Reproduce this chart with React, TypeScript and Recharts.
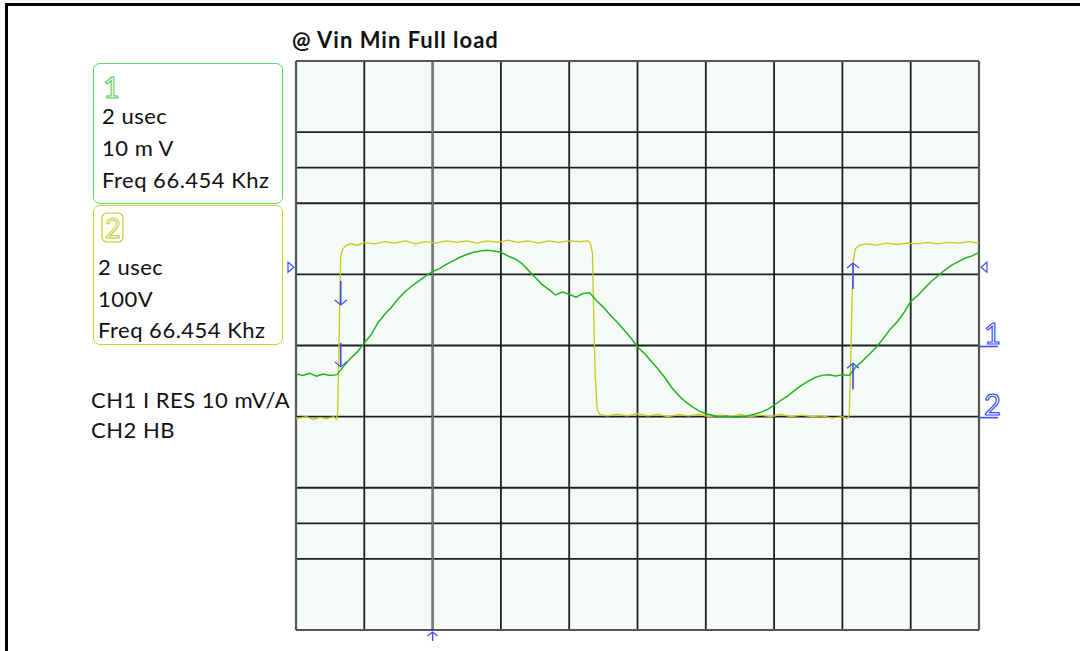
import React from "react";
import {
  LineChart,
  Line,
  XAxis,
  YAxis,
  CartesianGrid,
  ReferenceLine,
  ReferenceDot,
} from "recharts";

// ---- data (read from the scope capture) ----
// time axis: 2 usec / div, 10 divisions
const timeTicks = [0, 2, 4, 6, 8, 10, 12, 14, 16, 18, 20];
// CH1 (10 mV/div), 8 divisions plus two half lines
const ch1Ticks = [-40, -30, -25, -20, -10, 0, 10, 20, 25, 30, 40];

// CH1 current-sense trace (usec, mV)
const ch1Time = [
  0, 0.2, 0.4, 0.6, 0.8, 1.0, 1.2, 1.4, 1.6, 1.8, 2.0, 2.2, 2.4, 2.6, 2.8, 3.0, 3.2,
  3.4, 3.6, 3.8, 4.0, 4.2, 4.4, 4.6, 4.8, 5.0, 5.2, 5.4, 5.6, 5.8, 6.0, 6.2, 6.4,
  6.6, 6.8, 7.0, 7.2, 7.4, 7.6, 7.8, 8.0, 8.2, 8.4, 8.6, 8.8, 9.0, 9.2, 9.4, 9.6,
  9.8, 10.0, 10.2, 10.4, 10.6, 10.8, 11.0, 11.2, 11.4, 11.6, 11.8, 12.0, 12.2,
  12.4, 12.6, 12.8, 13.0, 13.2, 13.4, 13.6, 13.8, 14.0, 14.2, 14.4, 14.6, 14.8,
  15.0, 15.2, 15.4, 15.6, 15.8, 16.0, 16.2, 16.4, 16.6, 16.8, 17.0, 17.2, 17.4,
  17.6, 17.8, 18.0, 18.2, 18.4, 18.6, 18.8, 19.0, 19.2, 19.4, 19.6, 19.8, 20.0,
];
const ch1mV = [
  -4.0, -4.2, -3.9, -4.3, -4.0, -4.2, -4.1, -2.9, -1.8, -0.9, 0.4, 1.5, 3.2, 4.4,
  5.4, 6.6, 7.6, 8.4, 9.1, 9.8, 10.4, 10.8, 11.4, 11.9, 12.4, 12.8, 13.1, 13.3,
  13.4, 13.3, 13.1, 12.6, 12.2, 11.6, 10.6, 9.6, 8.6, 7.9, 7.1, 7.5, 7.2, 6.8, 7.3,
  7.4, 6.3, 5.4, 4.3, 3.3, 2.2, 1.1, -0.2, -1.1, -2.2, -3.3, -4.5, -5.9, -7.0,
  -7.9, -8.6, -9.2, -9.6, -9.8, -10.0, -9.9, -10.1, -10.0, -9.9, -9.7, -9.4, -9.0,
  -8.4, -7.7, -7.1, -6.3, -5.6, -5.0, -4.5, -4.2, -4.1, -4.3, -4.1, -4.2, -3.0,
  -2.1, -1.2, -0.2, 1.0, 2.3, 3.3, 4.6, 6.2, 7.0, 8.0, 9.0, 9.8, 10.6, 11.3, 11.8,
  12.3, 12.6, 13.1,
];

// CH2 half-bridge node (usec, V) at 100 V/div
const ch2Time = [
  0, 0.3, 0.5, 0.7, 0.9, 1.1, 1.18, 1.22, 1.25, 1.28, 1.31, 1.36, 1.45, 1.6, 1.8,
  2.0, 2.3, 2.6, 2.9, 3.2, 3.5, 3.8, 4.1, 4.4, 4.7, 5.0, 5.3, 5.6, 5.9, 6.2, 6.5,
  6.8, 7.1, 7.4, 7.7, 8.0, 8.3, 8.55, 8.62, 8.68, 8.72, 8.76, 8.82, 8.9, 9.1, 9.4,
  9.7, 10.0, 10.3, 10.6, 10.9, 11.2, 11.5, 11.8, 12.1, 12.4, 12.7, 13.0, 13.3,
  13.6, 13.9, 14.2, 14.5, 14.8, 15.1, 15.4, 15.7, 16.0, 16.14, 16.2, 16.24, 16.28,
  16.32, 16.38, 16.5, 16.7, 17.0, 17.3, 17.6, 17.9, 18.2, 18.5, 18.8, 19.1, 19.4,
  19.7, 20.0,
];
const ch2Volts = [
  -103, -100, -104, -101, -103, -100, -104, -95, -20, 60, 125, 135, 140, 143, 141,
  145, 143, 146, 144, 147, 143, 146, 144, 147, 145, 147, 144, 147, 145, 148, 145,
  147, 144, 147, 145, 147, 146, 147, 144, 130, 40, -40, -90, -97, -99, -97, -99,
  -96, -99, -97, -100, -97, -99, -97, -100, -98, -100, -97, -100, -98, -100, -97,
  -100, -98, -100, -99, -102, -100, -103, -98, -30, 60, 120, 136, 141, 143, 141,
  144, 142, 144, 143, 145, 143, 145, 144, 146, 144,
];

// cursor / marker positions (usec, mV)
const cursorLeftT = 1.31;
const cursorRightT = 16.31;
const cursorDownHeads = [5.7, -3.0];
const cursorUpHeads = [11.6, -2.5];
const triggerLevelmV = 11.0;
const triggerT = 4;

const ch1Data = ch1Time.map((t, i) => ({ t, v: ch1mV[i] }));
const ch2Data = ch2Time.map((t, i) => ({ t, v: ch2Volts[i] }));

const BLUE = "#3a4cf5";
const GREEN = "#1fb41f";
const YELLOW = "#c8c81e";
const FONT = "Lato, 'Noto Sans', sans-serif";

const DownArrow = (p: any) => (
  <g>
    <line x1={p.cx} y1={p.cy - 24} x2={p.cx} y2={p.cy} stroke={BLUE} strokeWidth={1.6} />
    <polyline
      points={`${p.cx - 6},${p.cy - 5} ${p.cx},${p.cy} ${p.cx + 6},${p.cy - 5}`}
      fill="none"
      stroke={BLUE}
      strokeWidth={1.2}
    />
  </g>
);
const UpArrow = (p: any) => (
  <g>
    <line x1={p.cx} y1={p.cy + 26} x2={p.cx} y2={p.cy} stroke={BLUE} strokeWidth={1.6} />
    <polyline
      points={`${p.cx - 6},${p.cy + 5} ${p.cx},${p.cy} ${p.cx + 6},${p.cy + 5}`}
      fill="none"
      stroke={BLUE}
      strokeWidth={1.2}
    />
  </g>
);
const BottomArrow = (p: any) => (
  <g>
    <line x1={p.cx} y1={p.cy + 11} x2={p.cx} y2={p.cy + 2} stroke={BLUE} strokeWidth={1.4} />
    <polyline
      points={`${p.cx - 5},${p.cy + 6} ${p.cx},${p.cy + 2} ${p.cx + 5},${p.cy + 6}`}
      fill="none"
      stroke={BLUE}
      strokeWidth={1.1}
    />
  </g>
);
const TriRight = (p: any) => (
  <polygon
    points={`${p.cx - 8},${p.cy - 5} ${p.cx - 2},${p.cy} ${p.cx - 8},${p.cy + 5}`}
    fill="none"
    stroke={BLUE}
    strokeWidth={1.2}
  />
);
const TriLeft = (p: any) => (
  <polygon
    points={`${p.cx + 8},${p.cy - 5} ${p.cx + 2},${p.cy} ${p.cx + 8},${p.cy + 5}`}
    fill="none"
    stroke={BLUE}
    strokeWidth={1.2}
  />
);
const ChanLabel = (label: string) => (p: any) => (
  <g>
    <text
      x={p.cx + 5}
      y={p.cy - 2}
      fontFamily={FONT}
      fontSize={29}
      fill="none"
      stroke={BLUE}
      strokeWidth={1.2}
    >
      {label}
    </text>
    <line x1={p.cx + 1} y1={p.cy + 1} x2={p.cx + 19} y2={p.cy + 1} stroke={BLUE} strokeWidth={1.6} />
  </g>
);

const Txt = ({ x, y, size, children, bold, spacing }: any) => (
  <div
    style={{
      position: "absolute",
      left: x,
      top: y - 0.629 * size,
      fontFamily: FONT,
      fontSize: size,
      lineHeight: `${1.2 * size}px`,
      fontWeight: bold ? 700 : 400,
      letterSpacing: spacing ?? 0.5,
      color: "#111",
      whiteSpace: "nowrap",
    }}
  >
    {children}
  </div>
);

const Box = ({ x, y, w, h, color }: any) => (
  <div
    style={{
      position: "absolute",
      left: x,
      top: y,
      width: w,
      height: h,
      border: `1.5px solid ${color}`,
      borderRadius: 7,
      boxSizing: "border-box",
    }}
  />
);

export default function App() {
  return (
    <div
      style={{
        position: "absolute",
        left: 0,
        top: 0,
        width: 1080,
        height: 651,
        background: "#fff",
        overflow: "hidden",
      }}
    >
      {/* outer page frame */}
      <div style={{ position: "absolute", left: 5, top: 3, width: 1075, height: 3, background: "#000" }} />
      <div style={{ position: "absolute", left: 5, top: 3, width: 3, height: 648, background: "#000" }} />

      <div style={{ position: "absolute", left: 0, top: 0 }}>
        <LineChart
          width={1080}
          height={651}
          margin={{ top: 61, left: 296, right: 101, bottom: 21 }}
        >
          <XAxis
            type="number"
            dataKey="t"
            domain={[0, 20]}
            ticks={timeTicks}
            hide
            allowDataOverflow
          />
          <YAxis yAxisId="ch1" type="number" domain={[-40, 40]} ticks={ch1Ticks} hide />
          <YAxis yAxisId="ch2" type="number" domain={[-400, 400]} hide />
          <CartesianGrid
            yAxisId="ch1"
            stroke="#1f1f1f"
            strokeWidth={1.8}
            fill="#f6faf6"
            fillOpacity={1}
          />
          <ReferenceLine yAxisId="ch1" x={triggerT} stroke="#777" strokeWidth={2.2} />
          <ReferenceLine yAxisId="ch1" x={0} stroke="#555" strokeWidth={2.2} />
          <ReferenceLine yAxisId="ch1" x={20} stroke="#555" strokeWidth={2.2} />
          <ReferenceLine yAxisId="ch1" y={40} stroke="#555" strokeWidth={2.2} />
          <ReferenceLine yAxisId="ch1" y={-40} stroke="#555" strokeWidth={2.2} />
          <Line
            yAxisId="ch2"
            data={ch2Data}
            dataKey="v"
            type="linear"
            stroke={YELLOW}
            strokeWidth={1.3}
            dot={false}
            isAnimationActive={false}
          />
          <Line
            yAxisId="ch1"
            data={ch1Data}
            dataKey="v"
            type="linear"
            stroke={GREEN}
            strokeWidth={1.5}
            dot={false}
            isAnimationActive={false}
          />
          {cursorDownHeads.map((v, i) => (
            <ReferenceDot
              key={"d" + i}
              yAxisId="ch1"
              x={cursorLeftT}
              y={v}
              ifOverflow="visible"
              shape={DownArrow}
            />
          ))}
          {cursorUpHeads.map((v, i) => (
            <ReferenceDot
              key={"u" + i}
              yAxisId="ch1"
              x={cursorRightT}
              y={v}
              ifOverflow="visible"
              shape={UpArrow}
            />
          ))}
          <ReferenceDot yAxisId="ch1" x={triggerT} y={-40} ifOverflow="visible" shape={BottomArrow} />
          <ReferenceDot yAxisId="ch1" x={0} y={triggerLevelmV} ifOverflow="visible" shape={TriRight} />
          <ReferenceDot yAxisId="ch1" x={20} y={triggerLevelmV} ifOverflow="visible" shape={TriLeft} />
          <ReferenceDot yAxisId="ch1" x={20} y={0} ifOverflow="visible" shape={ChanLabel("1")} />
          <ReferenceDot yAxisId="ch2" x={20} y={-100} ifOverflow="visible" shape={ChanLabel("2")} />
        </LineChart>
      </div>

      {/* title */}
      <Txt x={292} y={41} size={22} bold spacing={1}>
        @ Vin Min Full load
      </Txt>

      {/* channel 1 box */}
      <Box x={93} y={63} w={190} h={141} color="#5fd35f" />
      <svg style={{ position: "absolute", left: 0, top: 0 }} width={300} height={360}>
        <text x={103} y={98} fontFamily={FONT} fontSize={29} fill="none" stroke="#4ccc4c" strokeWidth={1}>
          1
        </text>
        <rect x={102} y={213} width={21} height={29} rx={5} fill="none" stroke={YELLOW} strokeWidth={1.2} />
        <text x={105} y={238} fontFamily={FONT} fontSize={27} fill="none" stroke={YELLOW} strokeWidth={1}>
          2
        </text>
      </svg>
      <Txt x={102} y={117} size={22}>2 usec</Txt>
      <Txt x={102} y={149} size={22}>10 m V</Txt>
      <Txt x={102} y={181} size={22}>Freq 66.454 Khz</Txt>

      {/* channel 2 box */}
      <Box x={93} y={205} w={190} h={140} color="#cccc33" />
      <Txt x={98} y={268} size={22}>2 usec</Txt>
      <Txt x={98} y={300} size={22}>100V</Txt>
      <Txt x={98} y={331} size={22}>Freq 66.454 Khz</Txt>

      <Txt x={91} y={401} size={22}>CH1 I RES 10 mV/A</Txt>
      <Txt x={91} y={431} size={22}>CH2 HB</Txt>
    </div>
  );
}
